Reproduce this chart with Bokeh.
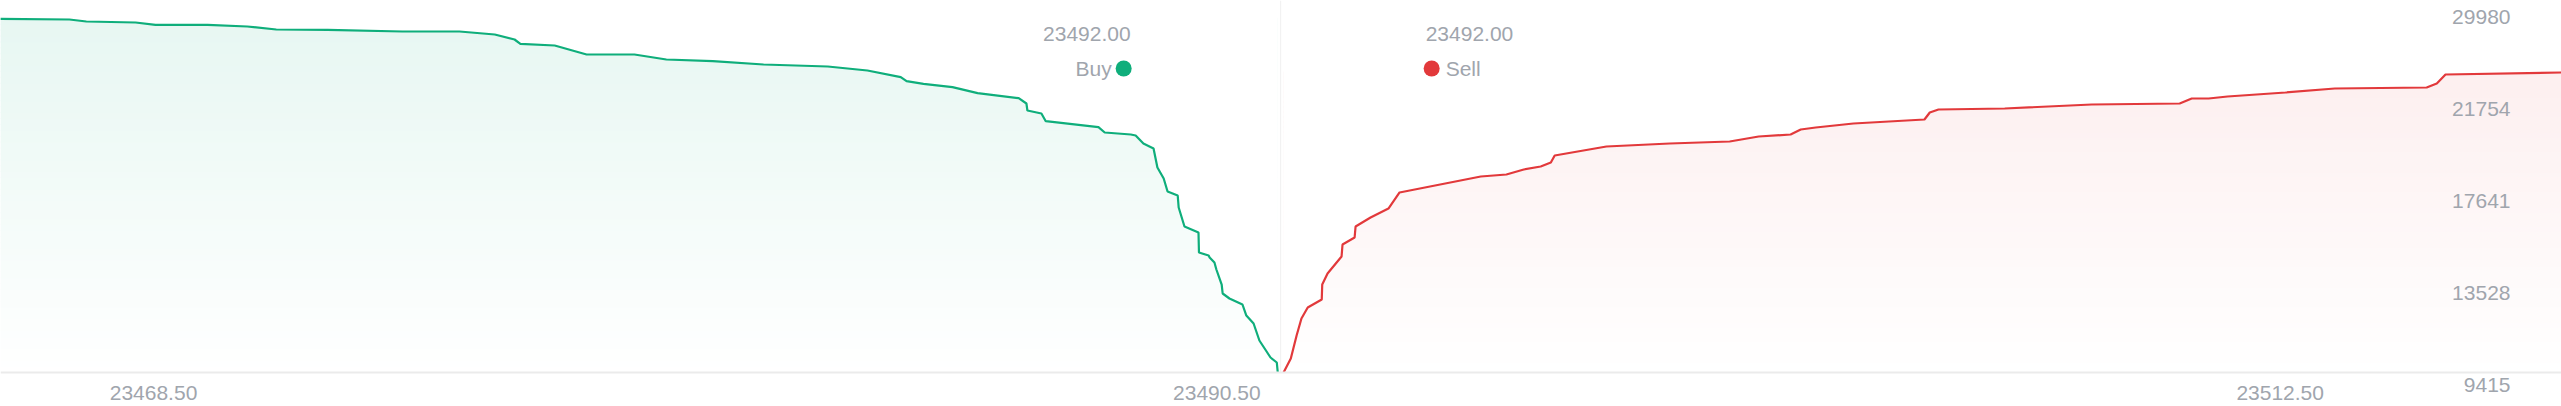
import numpy as np

from bokeh.core.properties import value
from bokeh.embed import file_html
from bokeh.models import FixedTicker, LinearAxis, PrintfTickFormatter, Range1d
from bokeh.plotting import figure
from bokeh.resources import INLINE

# cumulative depth, bids (left) and asks (right)
buy_price = [23465.33, 23466.76, 23467.11, 23468.13, 23468.54, 23469.62, 23470.44, 23471.04,
             23472.10, 23473.65, 23474.83, 23475.56, 23475.97, 23476.09, 23476.80, 23477.46,
             23478.45, 23479.11, 23480.07, 23481.12, 23482.45, 23483.27, 23483.96, 23484.08,
             23484.43, 23485.03, 23485.55, 23486.40, 23486.56, 23486.58, 23486.87, 23486.96,
             23488.05, 23488.18, 23488.72, 23488.82, 23488.98, 23489.19, 23489.27, 23489.40,
             23489.48, 23489.69, 23489.71, 23489.83, 23490.12, 23490.13, 23490.33, 23490.35,
             23490.45, 23490.49, 23490.60, 23490.62, 23490.76, 23491.03, 23491.11, 23491.26,
             23491.38, 23491.61, 23491.74, 23491.76]
buy_depth = [25229, 25198, 25108, 25064, 24961, 24961, 24885, 24751,
             24737, 24661, 24661, 24527, 24303, 24111, 24035, 23633,
             23633, 23409, 23333, 23186, 23096, 22917, 22618, 22439,
             22323, 22171, 21903, 21679, 21442, 21129, 20995, 20651,
             20382, 20145, 20056, 20011, 19654, 19430, 18581, 18089,
             17508, 17329, 16792, 15943, 15674, 14780, 14646, 14557,
             14333, 14020, 13349, 12947, 12724, 12455, 11963, 11606,
             10846, 10086, 9862, 9415]

sell_price = [23491.88, 23492.03, 23492.15, 23492.25, 23492.38, 23492.67, 23492.68, 23492.79,
              23493.08, 23493.10, 23493.35, 23493.37, 23493.68, 23494.05, 23494.28, 23495.96,
              23496.49, 23496.85, 23497.20, 23497.41, 23497.49, 23498.56, 23499.87, 23501.11,
              23501.71, 23502.37, 23502.58, 23502.89, 23503.67, 23505.14, 23505.25, 23505.43,
              23506.80, 23508.60, 23510.42, 23510.67, 23511.02, 23511.41, 23512.61, 23513.63,
              23515.53, 23515.74, 23515.92, 23518.32]
sell_depth = [9415, 10041, 11069, 11829, 12321, 12679, 13349, 13841,
              14601, 15138, 15451, 15943, 16345, 16747, 17463, 18178,
              18268, 18491, 18625, 18804, 19117, 19519, 19654, 19743,
              19967, 20056, 20280, 20369, 20548, 20727, 21040, 21174,
              21218, 21397, 21442, 21666, 21666, 21755, 21934, 22113,
              22157, 22336, 22739, 22828]

x_ticks = [23468.5, 23490.5, 23512.5]
y_ticks = [9415, 13528, 17641, 21754, 25867]
y_tick_labels = ["9415", "13528", "17641", "21754", "29980"]
buy_header = "23492.00"
sell_header = "23492.00"

GREEN = "#0fae7b"
RED = "#e2393b"
TEXT = "#a0a5ad"
FONT = "Liberation Sans"

W, H = 2561, 406
x_start, x_end = 23465.334, 23518.32
y_base = 9415
y_start, y_end = 7895, 26047
ux = (x_end - x_start) / W
uy = (y_end - y_start) / H


def ypx(py):
    # vertical position given in pixels from the top of the chart
    return y_start + (H - py) * uy


p = figure(width=W, height=H, x_range=Range1d(x_start, x_end), y_range=Range1d(y_start, y_end),
           x_axis_type=None, y_axis_type=None, min_border=0,
           output_backend="svg", toolbar_location=None)
p.outline_line_color = None
p.background_fill_color = "white"
p.border_fill_color = "white"


def depth_area(price, depth, color, top_alpha, n=60):
    price = np.asarray(price, dtype=float)
    depth = np.asarray(depth, dtype=float)
    edges = np.linspace(y_base, depth.max(), n + 1)
    frac = (np.arange(n) + 0.5) / n
    rgb = np.array([int(color[i:i + 2], 16) for i in (1, 3, 5)])
    cols = ["#%02x%02x%02x" % tuple(np.round(255 - f * top_alpha * (255 - rgb)).astype(int))
            for f in frac]
    # vertical gradient as stacked bands, then white above the curve
    p.quad(left=price.min(), right=price.max(), bottom=edges[:-1], top=edges[1:] + uy,
           fill_color=cols, line_color=None)
    p.varea(x=price, y1=depth, y2=y_end, fill_color="white")
    p.line(price, depth, line_color=color, line_width=2.2)


depth_area(buy_price, buy_depth, GREEN, 0.10)
depth_area(sell_price, sell_depth, RED, 0.08)

mid = (buy_price[-1] + sell_price[0]) / 2
p.segment(x0=mid, y0=y_base, x1=mid, y1=y_end, line_color="#f0f0f0", line_width=1)

xaxis = LinearAxis(fixed_location=y_base, ticker=FixedTicker(ticks=x_ticks),
                   formatter=PrintfTickFormatter(format="%.2f"))
xaxis.axis_line_color = "#ebebeb"
xaxis.axis_line_width = 2
xaxis.major_tick_line_color = None
xaxis.minor_tick_line_color = None
xaxis.major_label_standoff = 7
xaxis.major_label_text_font = FONT
xaxis.major_label_text_font_size = "21px"
xaxis.major_label_text_color = TEXT
p.add_layout(xaxis, "below")

txt = dict(text_font=value(FONT), text_font_size="21px", text_color=TEXT)

# value labels on the right, inside the plot, hanging just under their level
p.text(x=[x_end - 51 * ux] * len(y_ticks), y=y_ticks, text=y_tick_labels,
       text_align="right", text_baseline="top", y_offset=5, **txt)

# headers around the mid price
row1, row2 = ypx(33), ypx(68)
p.text(x=[mid - 150 * ux], y=[row1], text=[buy_header], text_align="right",
       text_baseline="middle", **txt)
p.text(x=[mid + 145 * ux], y=[row1], text=[sell_header], text_align="left",
       text_baseline="middle", **txt)
p.text(x=[mid - 169 * ux], y=[row2], text=["Buy"], text_align="right",
       text_baseline="middle", **txt)
p.text(x=[mid + 165 * ux], y=[row2], text=["Sell"], text_align="left",
       text_baseline="middle", **txt)
p.scatter(x=[mid - 157 * ux, mid + 151 * ux], y=[row2, row2], size=16, marker="circle",
          fill_color=[GREEN, RED], line_color=None)

open("out.html", "w").write(file_html(p, INLINE))
